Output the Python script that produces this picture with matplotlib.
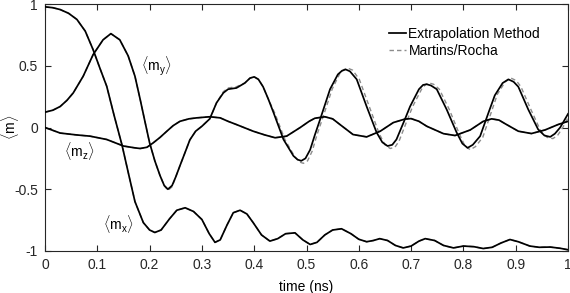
import matplotlib
matplotlib.use("Agg")
import matplotlib.pyplot as plt
from matplotlib.lines import Line2D

plt.rcParams['font.family'] = ['Liberation Sans', 'DejaVu Sans']
plt.rcParams['mathtext.fontset'] = 'custom'
plt.rcParams['mathtext.rm'] = 'Liberation Sans'
plt.rcParams['mathtext.it'] = 'Liberation Sans:italic'

# ---- data ----
t_mx = [0, 0.015, 0.029, 0.045, 0.061, 0.077, 0.092, 0.105, 0.118, 0.132, 0.147, 0.16, 0.172, 0.188, 0.2, 0.21,
        0.222, 0.238, 0.252, 0.268, 0.284, 0.30, 0.314, 0.325, 0.335, 0.348, 0.36, 0.373, 0.386, 0.398,
        0.414, 0.43, 0.445, 0.46, 0.478, 0.493, 0.507, 0.52, 0.535, 0.55, 0.567, 0.585, 0.60, 0.615,
        0.628, 0.64, 0.655, 0.67, 0.685, 0.70, 0.715, 0.727, 0.745, 0.762, 0.781, 0.80, 0.82, 0.838,
        0.855, 0.872, 0.889, 0.905, 0.927, 0.945, 0.966, 0.985, 1.0]
mx = [0.977, 0.97, 0.955, 0.925, 0.875, 0.78, 0.63, 0.48, 0.334, 0.10, -0.138, -0.38, -0.6, -0.77, -0.83, -0.85,
      -0.83, -0.74, -0.67, -0.65, -0.68, -0.745, -0.86, -0.93, -0.91, -0.79, -0.69, -0.67, -0.70, -0.77,
      -0.87, -0.92, -0.90, -0.86, -0.853, -0.91, -0.947, -0.93, -0.87, -0.83, -0.82, -0.86, -0.905, -0.925,
      -0.915, -0.90, -0.915, -0.955, -0.975, -0.96, -0.92, -0.90, -0.915, -0.955, -0.975, -0.96, -0.965, -0.98,
      -0.97, -0.935, -0.907, -0.925, -0.96, -0.97, -0.968, -0.978, -0.99]

t_my = [0, 0.015, 0.029, 0.042, 0.054, 0.073, 0.092, 0.111, 0.126, 0.143, 0.159, 0.172, 0.182, 0.191, 0.2, 0.21, 0.22,
        0.228, 0.235, 0.243, 0.25, 0.258, 0.268, 0.277, 0.288, 0.30, 0.315, 0.328, 0.341, 0.35, 0.366,
        0.382, 0.392, 0.40, 0.408, 0.417, 0.427,
        0.437, 0.456, 0.475, 0.483, 0.49, 0.498, 0.507, 0.516, 0.526, 0.545, 0.56, 0.568, 0.575, 0.583,
        0.596, 0.615, 0.634, 0.645, 0.655, 0.664, 0.672, 0.688, 0.698, 0.715, 0.723, 0.73, 0.738, 0.749,
        0.768, 0.787, 0.798, 0.808, 0.818, 0.832, 0.848, 0.86, 0.875, 0.886, 0.896, 0.905, 0.924, 0.943,
        0.955, 0.966, 0.975, 0.985, 1.0]
my = [0.124, 0.14, 0.17, 0.22, 0.28, 0.415, 0.59, 0.71, 0.76, 0.71, 0.58, 0.415, 0.227, 0.05, -0.124, -0.27, -0.39,
      -0.47, -0.50, -0.47, -0.40, -0.31, -0.20, -0.10, -0.03, 0.01, 0.07, 0.2, 0.28, 0.31, 0.32,
      0.36, 0.40, 0.41, 0.39, 0.33, 0.23,
      0.12, -0.097, -0.23, -0.26, -0.27, -0.25, -0.18, -0.06, 0.065, 0.31, 0.43, 0.46, 0.47, 0.455,
      0.39, 0.17, -0.04, -0.12, -0.15, -0.14, -0.097, 0.065, 0.17, 0.31, 0.345, 0.35, 0.34, 0.31,
      0.146, -0.04, -0.13, -0.165, -0.14, -0.07, 0.12, 0.26, 0.36, 0.39, 0.37, 0.33, 0.146, -0.016,
      -0.065, -0.076, -0.05, 0.0, 0.11]

t_mz = [0, 0.029, 0.06, 0.086, 0.118, 0.15, 0.172, 0.182, 0.195, 0.207, 0.22, 0.233, 0.245, 0.258, 0.275,
        0.29, 0.315, 0.335, 0.35, 0.366, 0.398, 0.42, 0.44, 0.462, 0.488, 0.505, 0.516, 0.535, 0.55,
        0.564, 0.589, 0.615, 0.641, 0.666, 0.688, 0.70, 0.715, 0.73, 0.762, 0.784, 0.813, 0.838, 0.854,
        0.868, 0.88, 0.905, 0.93, 0.956, 0.981, 1.0]
mz = [0.0, -0.045, -0.06, -0.07, -0.097, -0.15, -0.165, -0.17, -0.16, -0.124, -0.08, -0.03, 0.015, 0.05, 0.07,
      0.078, 0.087, 0.078, 0.05, 0.024, -0.03, -0.06, -0.083, -0.07, 0.0, 0.05, 0.075, 0.087, 0.07,
      0.024, -0.057, -0.076, -0.03, 0.04, 0.068, 0.072, 0.05, 0.01, -0.05, -0.065, -0.02, 0.05, 0.07,
      0.06, 0.03, -0.03, -0.049, -0.02, 0.024, 0.05]

# Martins/Rocha <m_y> (slight lag in the later oscillations)
t_my_mr = [0, 0.015, 0.029, 0.042, 0.054, 0.073, 0.092, 0.111, 0.126, 0.143, 0.159, 0.172, 0.182, 0.191, 0.2, 0.21, 0.22,
           0.228, 0.235, 0.243, 0.25, 0.258, 0.268, 0.277, 0.288, 0.30, 0.315, 0.328, 0.341, 0.35, 0.366,
           0.382, 0.392, 0.40, 0.408, 0.417, 0.427,
           0.439, 0.459, 0.478, 0.487, 0.494, 0.502, 0.511, 0.52, 0.53, 0.549, 0.564, 0.572, 0.579, 0.588,
           0.601, 0.62, 0.639, 0.65, 0.66, 0.669, 0.677, 0.693, 0.703, 0.72, 0.728, 0.735, 0.743, 0.754,
           0.773, 0.792, 0.803, 0.813, 0.823, 0.837, 0.853, 0.865, 0.88, 0.891, 0.901, 0.91, 0.929, 0.948,
           0.96, 0.971, 0.98, 0.99, 1.005]
my_mr = [0.124, 0.14, 0.17, 0.22, 0.28, 0.415, 0.59, 0.71, 0.76, 0.71, 0.58, 0.415, 0.227, 0.05, -0.124, -0.27, -0.39,
         -0.47, -0.51, -0.48, -0.40, -0.31, -0.20, -0.10, -0.03, 0.01, 0.07, 0.2, 0.29, 0.32, 0.33,
         0.36, 0.40, 0.41, 0.39, 0.33, 0.23,
         0.12, -0.10, -0.24, -0.28, -0.29, -0.27, -0.19, -0.06, 0.065, 0.31, 0.44, 0.47, 0.48, 0.465,
         0.39, 0.17, -0.05, -0.14, -0.17, -0.16, -0.11, 0.065, 0.17, 0.31, 0.35, 0.36, 0.35, 0.31,
         0.146, -0.05, -0.15, -0.18, -0.155, -0.08, 0.12, 0.27, 0.37, 0.40, 0.38, 0.33, 0.146, -0.03,
         -0.08, -0.09, -0.065, 0.0, 0.12]

x_ticks = [0, 0.1, 0.2, 0.3, 0.4, 0.5, 0.6, 0.7, 0.8, 0.9, 1]
x_ticklabels = ['0', '0.1', '0.2', '0.3', '0.4', '0.5', '0.6', '0.7', '0.8', '0.9', '1']
y_ticks = [-1, -0.5, 0, 0.5, 1]
y_ticklabels = ['-1', '-0.5', '0', '0.5', '1']

# ---- figure ----
fig = plt.figure(figsize=(5.7, 2.93), dpi=100)
ax = fig.add_axes([45 / 570, 1 - 251 / 293, 523 / 570, 247 / 293])

gray = '#8c8c8c'
dash = (0, (3.2, 2.2))
ax.plot(t_mx, mx, color=gray, lw=1.0, ls=dash, zorder=2)
ax.plot(t_my_mr, my_mr, color=gray, lw=1.0, ls=dash, zorder=2)
ax.plot(t_mz, mz, color=gray, lw=1.0, ls=dash, zorder=2)

ax.plot(t_mx, mx, color='black', lw=1.25, zorder=3)
ax.plot(t_my, my, color='black', lw=1.25, zorder=3)
ax.plot(t_mz, mz, color='black', lw=1.25, zorder=3)

ax.set_xlim(0, 1)
ax.set_ylim(-1, 1)
ax.set_xticks(x_ticks)
ax.set_xticklabels(x_ticklabels)
ax.set_yticks(y_ticks)
ax.set_yticklabels(y_ticklabels)
ax.tick_params(direction='in', length=4, width=0.8, top=True, right=True,
               labelsize=10, colors='#262626', pad=5)
for sp in ax.spines.values():
    sp.set_linewidth(0.8)
    sp.set_color('#262626')

ax.set_xlabel('time (ns)', fontsize=10, labelpad=6)
ax.set_ylabel(r'$\langle\mathrm{m}\rangle$', fontsize=10)
ax.yaxis.set_label_coords(-0.046, 0.5)

ax.text(0.212, 0.5, r'$\langle\mathrm{m}_\mathrm{y}\rangle$', fontsize=10, ha='center', va='center')
ax.text(0.065, -0.19, r'$\langle\mathrm{m}_\mathrm{z}\rangle$', fontsize=10, ha='center', va='center')
ax.text(0.14, -0.785, r'$\langle\mathrm{m}_\mathrm{x}\rangle$', fontsize=10, ha='center', va='center')

handles = [Line2D([], [], color='black', lw=1.25),
           Line2D([], [], color=gray, lw=1.0, ls=dash)]
ax.legend(handles, ['Extrapolation Method', 'Martins/Rocha'], loc='upper left',
          bbox_to_anchor=(389 / 570, 1 - 27 / 293), bbox_transform=fig.transFigure,
          frameon=False, fontsize=10, handlelength=1.25, handletextpad=0.15,
          labelspacing=0.2, borderaxespad=0, borderpad=0)

fig.savefig('out.png', dpi=100)
